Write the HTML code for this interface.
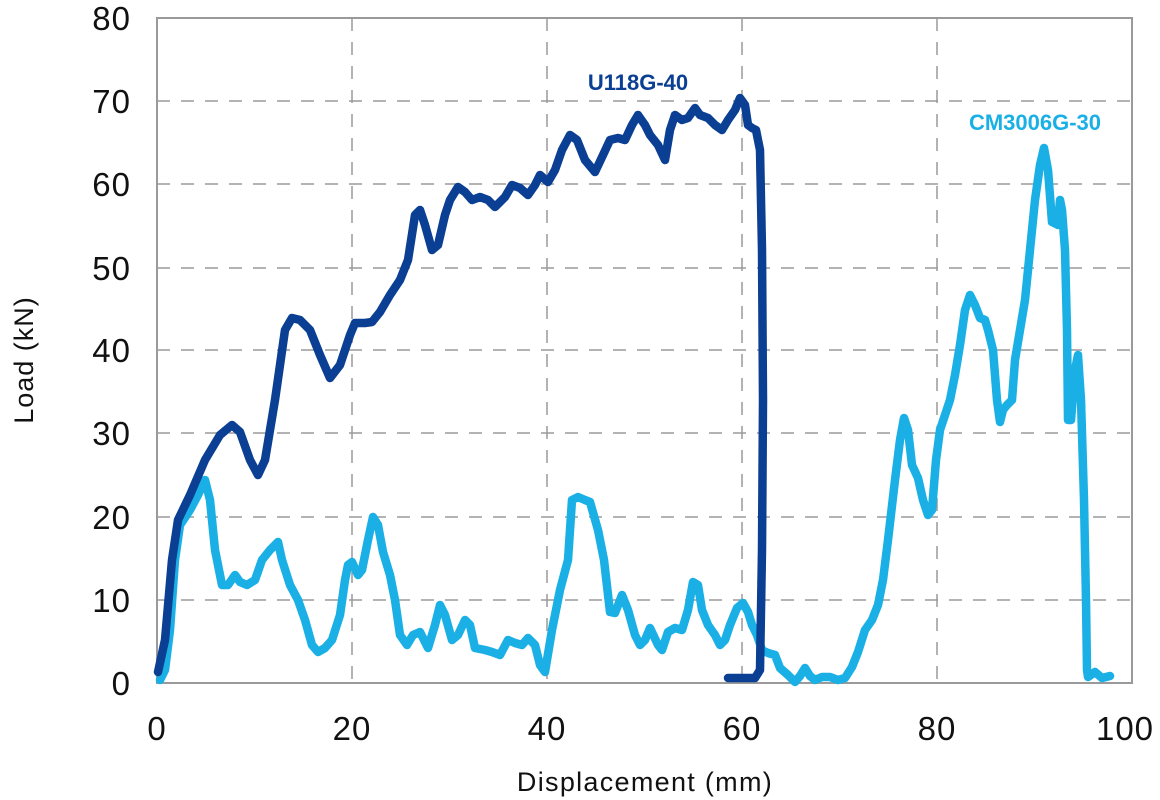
<!DOCTYPE html>
<html><head><meta charset="utf-8"><style>
html,body{margin:0;padding:0;background:#fff;}
svg{display:block;font-family:"Liberation Sans",sans-serif;}
</style></head><body>
<svg width="1160" height="800" viewBox="0 0 1160 800">
<g stroke="#9a9a9a" stroke-width="1.5" stroke-dasharray="13,11" fill="none">
<line x1="157" y1="101" x2="1132" y2="101"/>
<line x1="157" y1="184" x2="1132" y2="184"/>
<line x1="157" y1="268" x2="1132" y2="268"/>
<line x1="157" y1="350" x2="1132" y2="350"/>
<line x1="157" y1="433" x2="1132" y2="433"/>
<line x1="157" y1="517" x2="1132" y2="517"/>
<line x1="157" y1="600" x2="1132" y2="600"/>
<line x1="352" y1="18" x2="352" y2="683"/>
<line x1="547" y1="18" x2="547" y2="683"/>
<line x1="742" y1="18" x2="742" y2="683"/>
<line x1="937" y1="18" x2="937" y2="683"/>
</g>
<rect x="157" y="18" width="975" height="665" fill="none" stroke="#9a9a9a" stroke-width="2"/>
<g font-size="33" fill="#111" text-anchor="end" letter-spacing="1">
<text x="131" y="30">80</text><text x="131" y="113">70</text><text x="131" y="196">60</text>
<text x="131" y="280">50</text><text x="131" y="362">40</text><text x="131" y="445">30</text>
<text x="131" y="529">20</text><text x="131" y="612">10</text><text x="131" y="695">0</text>
</g>
<g font-size="33" fill="#111" text-anchor="middle" letter-spacing="1">
<text x="157" y="740">0</text><text x="352" y="740">20</text><text x="547" y="740">40</text>
<text x="742" y="740">60</text><text x="937" y="740">80</text><text x="1125" y="740">100</text>
</g>
<text x="645" y="791" font-size="27" fill="#111" text-anchor="middle" letter-spacing="1.3">Displacement (mm)</text>
<text transform="translate(33,360) rotate(-90)" font-size="27" fill="#111" text-anchor="middle" letter-spacing="1">Load (kN)</text>
<polyline fill="none" stroke="#1ab0e6" stroke-width="8.5" stroke-linejoin="round" stroke-linecap="round" points="160,680 165,670 170,630 175,560 180,525 190,510 198,495 205,480 210,500 215,550 222,585 228,585 235,575 240,582 247,585 255,580 262,560 270,550 278,542 282,560 290,585 298,600 305,620 312,645 318,652 325,648 332,640 340,615 345,580 348,565 352,562 358,575 362,570 368,540 373,517 378,525 383,552 390,575 395,600 400,635 407,645 413,635 420,632 428,648 435,625 440,605 445,615 452,640 458,635 465,620 470,625 475,648 485,650 492,652 500,655 508,640 515,643 522,645 528,638 535,645 540,665 545,672 552,630 560,590 568,560 572,500 578,497 585,500 590,502 598,530 604,560 610,612 615,613 622,595 628,610 635,635 640,645 645,640 650,628 658,645 662,650 668,632 675,628 682,630 688,610 693,582 698,585 702,610 708,625 715,635 720,645 725,640 730,625 737,608 743,603 748,612 752,625 757,635 762,650 768,653 775,655 780,668 788,675 795,682 800,676 805,668 810,676 815,680 822,677 830,677 838,680 845,678 852,667 858,652 865,630 872,620 878,605 883,580 888,540 895,480 900,440 904,418 908,430 912,465 918,478 923,500 928,515 932,510 936,460 940,430 945,415 950,400 955,375 960,345 965,310 970,295 975,305 980,318 985,320 988,330 993,350 997,400 1000,422 1003,410 1007,405 1012,400 1015,360 1020,330 1025,300 1030,250 1035,200 1040,165 1044,148 1048,170 1052,222 1058,225 1060,200 1062,210 1065,250 1067,330 1068,420 1071,420 1075,370 1078,355 1081,400 1084,500 1086,600 1087,670 1088,677 1095,672 1102,678 1110,676"/>
<polyline fill="none" stroke="#0a3f93" stroke-width="8.5" stroke-linejoin="round" stroke-linecap="round" points="158,672 165,640 172,560 178,520 190,495 205,460 220,435 232,425 240,432 250,460 258,475 265,460 275,400 285,330 292,318 300,320 310,330 320,355 330,378 340,365 350,335 355,323 365,323 372,322 380,312 390,295 400,280 408,260 415,215 420,210 425,225 432,250 438,245 445,215 450,200 458,187 465,192 472,200 480,197 488,200 495,207 505,197 512,185 520,188 528,195 535,185 540,175 548,182 555,170 562,150 570,135 577,140 585,160 595,172 603,155 610,140 618,138 625,140 632,125 638,115 645,125 650,135 658,145 665,160 670,130 675,115 682,120 688,118 695,108 700,115 708,118 715,125 722,130 728,120 735,110 740,98 745,105 748,125 752,128 756,130 760,150 762,250 763,400 762,550 760,670 755,678 740,678 728,678"/>
<text x="638" y="90" font-size="22" font-weight="bold" fill="#0a3f93" text-anchor="middle">U118G-40</text>
<text x="1035" y="130" font-size="22" font-weight="bold" fill="#1ab0e6" text-anchor="middle">CM3006G-30</text>
</svg>
</body></html>
